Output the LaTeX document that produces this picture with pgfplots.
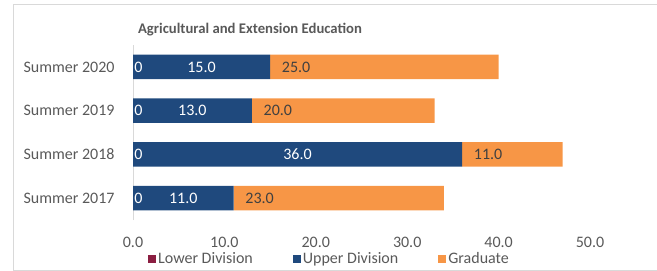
\documentclass[border=0pt]{standalone}
\usepackage{pgfplots}
\pgfplotsset{compat=1.18}
\usepackage{fontspec}
\setmainfont{Carlito}
\definecolor{lowdiv}{HTML}{8B1E41}
\definecolor{updiv}{HTML}{1F497D}
\definecolor{grad}{HTML}{F79646}
\definecolor{txtgray}{HTML}{595959}
\definecolor{framegray}{HTML}{D9D9D9}
\definecolor{lbldark}{HTML}{404040}
\newcommand\lblfont{\fontsize{16bp}{18bp}\selectfont}
\pgfplotsset{
  sqlegend/.style={legend image code/.code={\fill[##1] (0bp,-4bp) rectangle (8bp,4bp);}},
  geom/.style={at={(133bp,-220bp)}, anchor=south west,
    width=457bp, height=175bp, scale only axis,
    xmin=0, xmax=50, ymin=-0.5, ymax=3.5},
}
\begin{document}
\begin{tikzpicture}
\useasboundingbox (0,0) rectangle (657bp,-271bp);
\draw[framegray, line width=1bp] (700bp,-4bp) -- (13.5bp,-4bp) -- (13.5bp,-270bp) -- (700bp,-270bp);
\node[font=\bfseries\fontsize{14.7bp}{16bp}\selectfont, text=txtgray] at (250bp,-30bp) {Agricultural and Extension Education};
\begin{axis}[
  geom,
  xbar stacked, bar width=24.5bp,
  xtick={0,10,20,30,40,50},
  xticklabels={0.0,10.0,20.0,30.0,40.0,50.0},
  ytick={0,1,2,3},
  yticklabels={Summer 2017,Summer 2018,Summer 2019,Summer 2020},
  major tick length=0pt,
  axis x line*=bottom,
  axis y line*=left,
  x axis line style={draw=none},
  y axis line style={draw=framegray, line width=1bp},
  axis line style={-},
  tick label style={font=\lblfont, text=txtgray},
  xticklabel style={yshift=-14bp},
  yticklabel style={xshift=-15bp},
  legend style={draw=none, fill=none, at={(0.43,-0.223)}, anchor=center,
    legend columns=3, font=\lblfont, text=txtgray,
    /tikz/every even column/.append style={column sep=38bp},
    inner sep=0pt},
  sqlegend,
  clip=false,
]
\addplot[fill=lowdiv, draw=none] coordinates {(0,0) (0,1) (0,2) (0,3)};
\addlegendentry{Lower Division}
\addplot[fill=updiv, draw=none] coordinates {(11,0) (36,1) (13,2) (15,3)};
\addlegendentry{Upper Division}
\addplot[fill=grad, draw=none] coordinates {(23,0) (11,1) (20,2) (25,3)};
\addlegendentry{Graduate}
\end{axis}
\begin{axis}[geom, hide axis, clip=false]
% white labels: Lower Division zero and Upper Division values (centred in segment)
\addplot[only marks, mark=none, nodes near coords, point meta=explicit symbolic,
  every node near coord/.append style={anchor=center, text=white, font=\lblfont}]
  table[meta=label] {
x y label
0.6 0 0
0.6 1 0
0.6 2 0
0.6 3 0
5.5 0 11.0
18 1 36.0
6.5 2 13.0
7.5 3 15.0
};
% Graduate values
\addplot[only marks, mark=none, nodes near coords, point meta=explicit symbolic,
  every node near coord/.append style={anchor=center, text=lbldark, font=\lblfont}]
  table[meta=label] {
x y label
13.85 0 23.0
38.85 1 11.0
15.85 2 20.0
17.85 3 25.0
};
\end{axis}
\end{tikzpicture}
\end{document}
